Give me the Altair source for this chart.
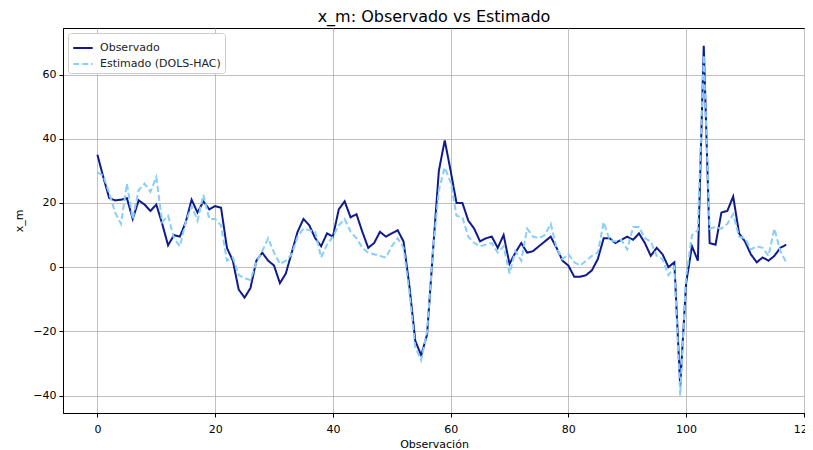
import altair as alt
import pandas as pd

# ---- data ----
observado = [35, 28, 21.5, 20.8, 21, 21.5, 15, 20.8, 19.5, 17.5,
             19.5, 13.5, 6.8, 10, 9.5, 14, 21, 17, 20.5, 18,
             19, 18.5, 6, 2, -7, -9.5, -6.5, 2, 4.5, 2,
             0.5, -5, -2, 4.5, 11, 15, 13, 9, 6.5, 10.5,
             9.5, 18, 20.5, 15.5, 16.5, 11, 6, 7.5, 11, 9.5,
             10.5, 11.5, 8, -6, -23, -27.5, -21, 5, 30, 39.5,
             30, 20, 20, 14.5, 12, 8, 9, 9.5, 6, 10,
             1, 4.5, 7.5, 4.5, 5, 6.5, 8, 9.5, 6, 2,
             0.5, -3, -3, -2.5, -1, 2.5, 9, 9, 7.5, 8.5,
             9.5, 8.5, 10.5, 7.5, 3.5, 6, 4, 0, 1.5, -37,
             -5, 6.5, 2, 69, 7.5, 7, 17, 17.5, 22, 10.5,
             8, 4, 1.5, 3, 2, 3.5, 6, 7]

estimado = [29.5, 28.5, 23, 17, 13.5, 26, 15, 24, 26, 23.5,
            28, 14, 16, 9, 6.5, 14, 19, 14.5, 22.5, 15,
            15, 13, 2, 3, -2.5, -3.5, -4, 1.5, 5, 9,
            4.5, 1, 2, 4, 9.5, 12, 11.5, 11, 3, 7,
            9.5, 13, 15, 11, 9, 6, 4.5, 4, 3.5, 3,
            6.5, 9, 6, -8, -25, -29, -20, 5, 24, 31,
            26.5, 16, 15.5, 9.5, 7.5, 6.5, 7, 7.5, 4.5, 6.5,
            -2, 5, 2, 12, 9.5, 9, 10, 13.5, 6, 2.5,
            4, 1.5, 0.5, 2, 3.5, 4.5, 14, 8.5, 8, 8.5,
            5.5, 12.5, 12.5, 9, 8, 3.5, 2.5, -2.5, 0, -40,
            -3, 10, 11.5, 66, 12, 12.5, 12, 13.5, 16.5, 9.5,
            9, 5.5, 6.5, 6, 3.5, 12, 5, 1.5]

series = ["Observado", "Estimado (DOLS-HAC)"]
x_ticks = [0, 20, 40, 60, 80, 100, 120]
y_ticks = [-40, -20, 0, 20, 40, 60]

obs = observado
est = estimado
n = len(obs)
df = pd.DataFrame({
    "Observación": list(range(n)) * 2,
    "valor": obs + est,
    "serie": [series[0]] * n + [series[1]] * len(est),
})

font = "DejaVu Sans"

x_enc = alt.X("Observación:Q",
              scale=alt.Scale(domain=[-5.85, 120.2], nice=False, zero=False),
              axis=alt.Axis(values=x_ticks, title="Observación", format="d",
                            labelPadding=6, titlePadding=4))
y_enc = alt.Y("valor:Q",
              scale=alt.Scale(domain=[-45.45, 74.5], nice=False, zero=False),
              axis=alt.Axis(values=y_ticks, title="x_m", format="d"))
legend_common = dict(title=None, orient="none", legendX=5, legendY=5)
color_enc = alt.Color("serie:N",
                      scale=alt.Scale(domain=series, range=["#0f1a8c", "#87cefa"]),
                      legend=alt.Legend(**legend_common,
                                        symbolType="stroke", symbolStrokeWidth=2,
                                        symbolSize=380, labelFontSize=11, labelFont=font,
                                        labelColor="#222", fillColor="white",
                                        strokeColor="#cccccc", cornerRadius=3,
                                        padding=4, rowPadding=0, labelOffset=6))
dash_enc = alt.StrokeDash("serie:N",
                          scale=alt.Scale(domain=series, range=[[1, 0], [6, 3]]),
                          legend=alt.Legend(**legend_common))

base = alt.Chart(df).encode(x=x_enc, y=y_enc, color=color_enc, strokeDash=dash_enc)

obs_line = base.transform_filter(alt.datum.serie == series[0]).mark_line(strokeWidth=2)
est_line = base.transform_filter(alt.datum.serie == series[1]).mark_line(strokeWidth=2)

chart = alt.layer(obs_line, est_line).properties(
    width=742,
    height=385,
    title=alt.Title("x_m: Observado vs Estimado", fontSize=16, font=font,
                    fontWeight="normal", color="black", offset=3),
    autosize=alt.AutoSizeParams(type="none"),
    padding={"left": 55, "top": 20, "right": 0, "bottom": 37},
).configure_view(
    stroke="black", strokeWidth=1
).configure_axis(
    labelFont=font, labelFontSize=11, labelColor="black",
    titleFont=font, titleFontSize=11, titleFontWeight="normal", titleColor="black",
    tickColor="black", tickSize=4, domainColor="black", domainWidth=1,
    gridColor="#b0b0b0", gridWidth=0.8, labelPadding=3,
).configure_axisY(titlePadding=8)

chart.save("out.html", embed_options={"renderer": "svg", "actions": False})
